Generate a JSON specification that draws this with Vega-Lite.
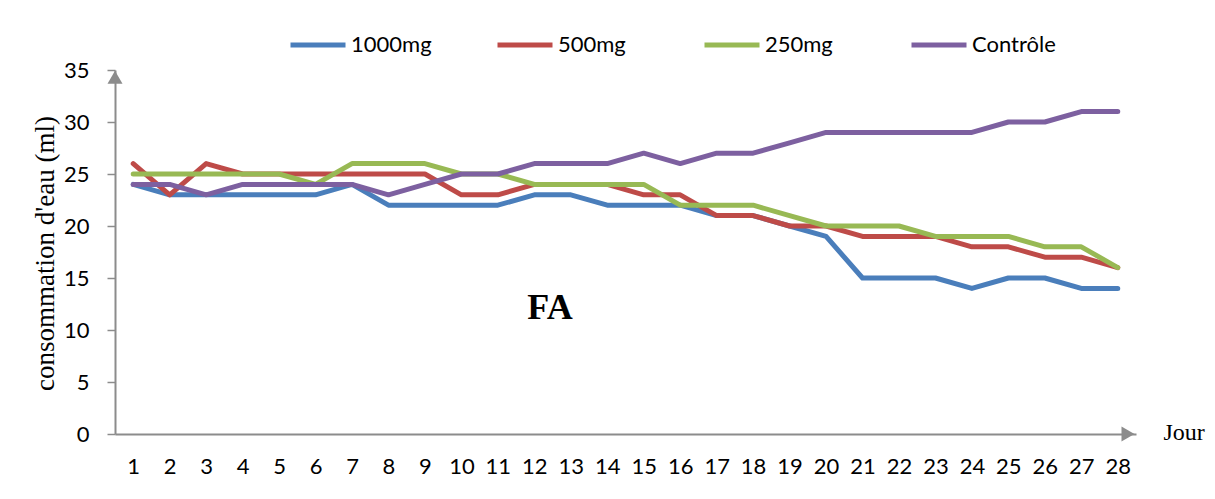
{
  "$schema": "https://vega.github.io/schema/vega-lite/v6.json",
  "width": 1021,
  "height": 364,
  "autosize": {"type": "none"},
  "padding": {"left": 115, "top": 70, "right": 79, "bottom": 65},
  "background": "white",
  "config": {"view": {"stroke": null}},
  "datasets": {
    "series": [
      {"jour":1,"dose":"1000mg","v":24},{"jour":2,"dose":"1000mg","v":23},{"jour":3,"dose":"1000mg","v":23},{"jour":4,"dose":"1000mg","v":23},{"jour":5,"dose":"1000mg","v":23},{"jour":6,"dose":"1000mg","v":23},{"jour":7,"dose":"1000mg","v":24},{"jour":8,"dose":"1000mg","v":22},{"jour":9,"dose":"1000mg","v":22},{"jour":10,"dose":"1000mg","v":22},{"jour":11,"dose":"1000mg","v":22},{"jour":12,"dose":"1000mg","v":23},{"jour":13,"dose":"1000mg","v":23},{"jour":14,"dose":"1000mg","v":22},{"jour":15,"dose":"1000mg","v":22},{"jour":16,"dose":"1000mg","v":22},{"jour":17,"dose":"1000mg","v":21},{"jour":18,"dose":"1000mg","v":21},{"jour":19,"dose":"1000mg","v":20},{"jour":20,"dose":"1000mg","v":19},{"jour":21,"dose":"1000mg","v":15},{"jour":22,"dose":"1000mg","v":15},{"jour":23,"dose":"1000mg","v":15},{"jour":24,"dose":"1000mg","v":14},{"jour":25,"dose":"1000mg","v":15},{"jour":26,"dose":"1000mg","v":15},{"jour":27,"dose":"1000mg","v":14},{"jour":28,"dose":"1000mg","v":14},
      {"jour":1,"dose":"500mg","v":26},{"jour":2,"dose":"500mg","v":23},{"jour":3,"dose":"500mg","v":26},{"jour":4,"dose":"500mg","v":25},{"jour":5,"dose":"500mg","v":25},{"jour":6,"dose":"500mg","v":25},{"jour":7,"dose":"500mg","v":25},{"jour":8,"dose":"500mg","v":25},{"jour":9,"dose":"500mg","v":25},{"jour":10,"dose":"500mg","v":23},{"jour":11,"dose":"500mg","v":23},{"jour":12,"dose":"500mg","v":24},{"jour":13,"dose":"500mg","v":24},{"jour":14,"dose":"500mg","v":24},{"jour":15,"dose":"500mg","v":23},{"jour":16,"dose":"500mg","v":23},{"jour":17,"dose":"500mg","v":21},{"jour":18,"dose":"500mg","v":21},{"jour":19,"dose":"500mg","v":20},{"jour":20,"dose":"500mg","v":20},{"jour":21,"dose":"500mg","v":19},{"jour":22,"dose":"500mg","v":19},{"jour":23,"dose":"500mg","v":19},{"jour":24,"dose":"500mg","v":18},{"jour":25,"dose":"500mg","v":18},{"jour":26,"dose":"500mg","v":17},{"jour":27,"dose":"500mg","v":17},{"jour":28,"dose":"500mg","v":16},
      {"jour":1,"dose":"250mg","v":25},{"jour":2,"dose":"250mg","v":25},{"jour":3,"dose":"250mg","v":25},{"jour":4,"dose":"250mg","v":25},{"jour":5,"dose":"250mg","v":25},{"jour":6,"dose":"250mg","v":24},{"jour":7,"dose":"250mg","v":26},{"jour":8,"dose":"250mg","v":26},{"jour":9,"dose":"250mg","v":26},{"jour":10,"dose":"250mg","v":25},{"jour":11,"dose":"250mg","v":25},{"jour":12,"dose":"250mg","v":24},{"jour":13,"dose":"250mg","v":24},{"jour":14,"dose":"250mg","v":24},{"jour":15,"dose":"250mg","v":24},{"jour":16,"dose":"250mg","v":22},{"jour":17,"dose":"250mg","v":22},{"jour":18,"dose":"250mg","v":22},{"jour":19,"dose":"250mg","v":21},{"jour":20,"dose":"250mg","v":20},{"jour":21,"dose":"250mg","v":20},{"jour":22,"dose":"250mg","v":20},{"jour":23,"dose":"250mg","v":19},{"jour":24,"dose":"250mg","v":19},{"jour":25,"dose":"250mg","v":19},{"jour":26,"dose":"250mg","v":18},{"jour":27,"dose":"250mg","v":18},{"jour":28,"dose":"250mg","v":16},
      {"jour":1,"dose":"Contrôle","v":24},{"jour":2,"dose":"Contrôle","v":24},{"jour":3,"dose":"Contrôle","v":23},{"jour":4,"dose":"Contrôle","v":24},{"jour":5,"dose":"Contrôle","v":24},{"jour":6,"dose":"Contrôle","v":24},{"jour":7,"dose":"Contrôle","v":24},{"jour":8,"dose":"Contrôle","v":23},{"jour":9,"dose":"Contrôle","v":24},{"jour":10,"dose":"Contrôle","v":25},{"jour":11,"dose":"Contrôle","v":25},{"jour":12,"dose":"Contrôle","v":26},{"jour":13,"dose":"Contrôle","v":26},{"jour":14,"dose":"Contrôle","v":26},{"jour":15,"dose":"Contrôle","v":27},{"jour":16,"dose":"Contrôle","v":26},{"jour":17,"dose":"Contrôle","v":27},{"jour":18,"dose":"Contrôle","v":27},{"jour":19,"dose":"Contrôle","v":28},{"jour":20,"dose":"Contrôle","v":29},{"jour":21,"dose":"Contrôle","v":29},{"jour":22,"dose":"Contrôle","v":29},{"jour":23,"dose":"Contrôle","v":29},{"jour":24,"dose":"Contrôle","v":29},{"jour":25,"dose":"Contrôle","v":30},{"jour":26,"dose":"Contrôle","v":30},{"jour":27,"dose":"Contrôle","v":31},{"jour":28,"dose":"Contrôle","v":31}
    ],
    "arrows": [
      {"pos": 0.5, "v": 34.3, "shape": "triangle-up"},
      {"pos": 28.28, "v": 0, "shape": "triangle-right"}
    ],
    "label": [{"pos": 12.43, "v": 12.1, "t": "FA"}]
  },
  "resolve": {"scale": {"x": "independent"}},
  "layer": [
    {
      "data": {"name": "series"},
      "mark": {"type": "line", "strokeWidth": 5, "strokeCap": "round", "strokeJoin": "round"},
      "encoding": {
        "x": {
          "field": "jour", "type": "ordinal",
          "scale": {"type": "point", "padding": 0.5},
          "axis": {
            "grid": false, "ticks": false, "domainColor": "#8c8c8c", "domainWidth": 2,
            "labelFont": "Lato", "labelFontSize": 22, "labelColor": "#000", "labelAngle": 0,
            "labelPadding": 22, "labelOverlap": false,
            "title": "Jour", "titleFont": "Liberation Serif", "titleFontSize": 24, "titleFontWeight": "normal",
            "titleAlign": "left", "titleBaseline": "middle", "titleX": 1048, "titleY": -2, "titleColor": "#000"
          }
        },
        "y": {
          "field": "v", "type": "quantitative",
          "scale": {"domain": [0, 35], "nice": false},
          "axis": {
            "values": [0,5,10,15,20,25,30,35], "grid": false,
            "tickSize": 8, "tickColor": "#8c8c8c", "tickWidth": 1.5, "domainColor": "#8c8c8c", "domainWidth": 2,
            "labelFont": "Lato", "labelFontSize": 22, "labelColor": "#000", "labelPadding": 18,
            "title": "consommation d'eau (ml)", "titleFont": "Liberation Serif", "titleFontSize": 27, "titleFontWeight": "normal",
            "titleColor": "#000", "titleX": -70, "titleY": 183, "titleAngle": -90, "titleAlign": "center", "titleBaseline": "middle"
          }
        },
        "color": {
          "field": "dose", "type": "nominal",
          "scale": {"domain": ["1000mg", "500mg", "250mg", "Contrôle"], "range": ["#4A7EBB", "#BE4B48", "#98B954", "#7D60A0"]},
          "legend": {
            "title": null, "orient": "none", "direction": "horizontal", "columns": 4, "gridAlign": "all",
            "legendX": 173, "legendY": -55,
            "symbolType": "stroke", "symbolSize": 3025, "symbolStrokeWidth": 5,
            "labelFont": "Lato", "labelFontSize": 22, "labelColor": "#000",
            "labelOffset": 3, "columnPadding": 52, "labelLimit": 250
          }
        }
      }
    },
    {
      "data": {"name": "arrows"},
      "mark": {"type": "point", "filled": true, "color": "#8c8c8c", "size": 225, "opacity": 1},
      "encoding": {
        "x": {"field": "pos", "type": "quantitative", "scale": {"domain": [0.5, 28.5], "nice": false, "zero": false}, "axis": null},
        "y": {"field": "v", "type": "quantitative"},
        "shape": {"field": "shape", "type": "nominal", "scale": null, "legend": null}
      }
    },
    {
      "data": {"name": "label"},
      "mark": {"type": "text", "font": "Liberation Serif", "fontSize": 36, "fontWeight": "bold", "color": "#000"},
      "encoding": {
        "x": {"field": "pos", "type": "quantitative", "scale": {"domain": [0.5, 28.5], "nice": false, "zero": false}, "axis": null},
        "y": {"field": "v", "type": "quantitative"},
        "text": {"field": "t"}
      }
    }
  ]
}
